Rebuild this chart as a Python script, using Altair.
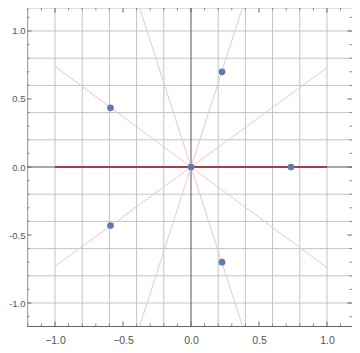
import altair as alt
import pandas as pd

# points
pt_x = [0.0, 0.735, 0.228, -0.592, -0.592, 0.228]
pt_y = [0.0, 0.0, 0.70, 0.435, -0.43, -0.70]

# pink lines through origin (endpoints)
ln_id = ["a", "a", "b", "b", "c", "c", "d", "d"]
ln_x = [-1.0, 1.0, -1.0, 1.0, -0.42, 0.42, -0.42, 0.42]
ln_y = [-0.73, 0.73, 0.74, -0.74, -1.3, 1.3, 1.3, -1.3]

# red line
red_x = [-1.0, 1.0]
red_y = [0.0, 0.0]

grid_vals = [-1.2, -1.0, -0.8, -0.6, -0.4, -0.2, 0.2, 0.4, 0.6, 0.8, 1.0, 1.2]
label_vals = [-1.0, -0.5, 0.0, 0.5, 1.0]
minor_vals = [-1.2, -1.1, -0.9, -0.8, -0.7, -0.6, -0.4, -0.3, -0.2, -0.1,
              0.1, 0.2, 0.3, 0.4, 0.6, 0.7, 0.8, 0.9, 1.1, 1.2]

W, H = 325, 318
XD = [-1.206, 1.184]
YD = [-1.169, 1.169]

xs = alt.Scale(domain=XD, nice=False, zero=False)
ys = alt.Scale(domain=YD, nice=False, zero=False)

pts = pd.DataFrame({"x": pt_x, "y": pt_y})
lines = pd.DataFrame({"id": ln_id, "x": ln_x, "y": ln_y})
red = pd.DataFrame({"x": red_x, "y": red_y})
grid = pd.DataFrame({"v": grid_vals})
major = pd.DataFrame({"v": label_vals})
minor = pd.DataFrame({"v": minor_vals})
origin = pd.DataFrame({"v": [0.0]})

xaxis = alt.Axis(values=label_vals, format=".1f", grid=False, ticks=False,
                 domainColor="#666666", labelColor="#555555", labelFontSize=10.5,
                 labelFont="Liberation Sans", labelPadding=9, title=None)
yaxis = alt.Axis(values=label_vals, grid=False, ticks=False,
                 labelExpr="(datum.value < 0 ? '-' : '') + format(abs(datum.value), '.1f')",
                 domainColor="#666666", labelColor="#555555", labelFontSize=9.5,
                 labelFont="Liberation Sans", labelPadding=2, title=None)

base_x = alt.X("x:Q", scale=xs, axis=xaxis)
base_y = alt.Y("y:Q", scale=ys, axis=yaxis)

vgrid = alt.Chart(grid).mark_rule(color="#c4c4c4", strokeWidth=1, clip=True).encode(
    x=alt.X("v:Q", scale=xs, axis=xaxis))
hgrid = alt.Chart(grid).mark_rule(color="#c4c4c4", strokeWidth=1, clip=True).encode(
    y=alt.Y("v:Q", scale=ys, axis=yaxis))
vaxis0 = alt.Chart(origin).mark_rule(color="#555555", strokeWidth=1).encode(
    x=alt.X("v:Q", scale=xs))
haxis0 = alt.Chart(origin).mark_rule(color="#555555", strokeWidth=1).encode(
    y=alt.Y("v:Q", scale=ys))

pink = alt.Chart(lines).mark_line(color="#f2c4cc", strokeWidth=1, clip=True).encode(
    x=base_x, y=base_y, detail="id:N")
redl = alt.Chart(red).mark_line(color="#b0374f", strokeWidth=2).encode(
    x=base_x, y=base_y)
points = alt.Chart(pts).mark_circle(color="#5e7bb0", opacity=1, size=45).encode(
    x=base_x, y=base_y)

def ticks(df, length, color):
    b = alt.Chart(df).mark_rule(color=color, strokeWidth=1, clip=True)
    bottom = b.encode(x=alt.X("v:Q", scale=xs), y=alt.value(H), y2=alt.value(H - length))
    top = b.encode(x=alt.X("v:Q", scale=xs), y=alt.value(0), y2=alt.value(length))
    left = b.encode(y=alt.Y("v:Q", scale=ys), x=alt.value(0), x2=alt.value(length))
    right = b.encode(y=alt.Y("v:Q", scale=ys), x=alt.value(W), x2=alt.value(W - length))
    return [bottom, left, top, right]

tick_layers = ticks(major, 4.5, "#666666") + ticks(minor, 2.5, "#888888")

chart = alt.layer(vgrid, hgrid, vaxis0, haxis0, pink, redl, points, *tick_layers).properties(
    width=W, height=H,
    autosize=alt.AutoSizeParams(type="none"),
    padding={"left": 19, "top": 0, "right": 0, "bottom": 19},
).configure_view(stroke="#bbbbbb", strokeWidth=1).configure(background="white")

chart.save("out.html", embed_options={"renderer": "svg", "actions": False})
